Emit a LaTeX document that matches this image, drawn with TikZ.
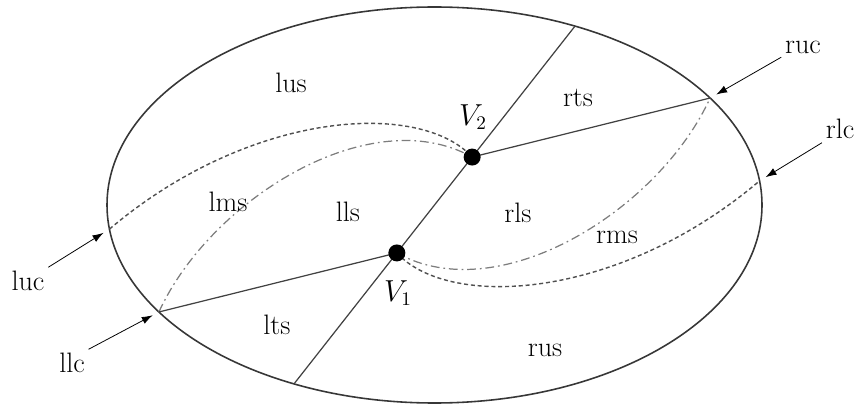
\documentclass[tikz,border=0pt]{standalone}
\usepackage{amsmath}
\usetikzlibrary{arrows.meta,positioning,calc}
\definecolor{rimgray}{RGB}{55,55,55}
\definecolor{cutgray}{RGB}{65,65,65}
\definecolor{dashgray}{RGB}{80,80,80}
\definecolor{dotgray}{RGB}{125,125,125}

\begin{document}
\begin{tikzpicture}[
  >={Latex[length=2.2mm,width=1.5mm]},
  font=\fontsize{16}{19}\selectfont,
  rim/.style={draw=rimgray, line width=0.9pt},
  cut/.style={draw=cutgray, line width=0.7pt},
  upper/.style={draw=dashgray, line width=0.8pt, dash pattern=on 2.3pt off 1.6pt},
  middle/.style={draw=dotgray, line width=0.7pt, dash pattern=on 5pt off 2.2pt on 1pt off 2.2pt},
  vertex/.style={circle, fill=black, inner sep=0pt, minimum size=3.4mm},
  region/.style={inner sep=1pt},
  tag/.style={inner sep=2pt},
  point/.style={->, line width=0.45pt, draw=black, shorten >=1.4mm}
]
\useasboundingbox (0,0) rectangle (17.18,-8.12);

% outer boundary and points on it
\coordinate (O) at (8.69,-4.10);
\draw[rim] (O) ellipse [x radius=6.55cm, y radius=3.96cm];
\coordinate (top) at ($(O)+(64.6:6.55cm and 3.96cm)$);
\coordinate (bot) at ($(O)+(244.6:6.55cm and 3.96cm)$);
\coordinate (ruc) at ($(O)+(32.7:6.55cm and 3.96cm)$);
\coordinate (rlc) at ($(O)+(7:6.55cm and 3.96cm)$);
\coordinate (luc) at ($(O)+(187:6.55cm and 3.96cm)$);
\coordinate (llc) at ($(O)+(212.7:6.55cm and 3.96cm)$);
\coordinate (V2) at ($(top)!0.366!(bot)$);
\coordinate (V1) at ($(top)!0.634!(bot)$);

% curves
\draw[upper] (luc) .. controls (5.00,-2.20) and (8.40,-2.00) .. (V2);
\draw[middle] (llc) .. controls (4.20,-4.00) and (7.40,-2.00) .. (V2);
\draw[middle] (V1) .. controls (9.98,-6.20) and (13.18,-4.20) .. (ruc);
\draw[upper] (V1) .. controls (8.98,-6.20) and (12.38,-6.00) .. (rlc);

% straight cuts
\draw[cut] (bot) -- (top);
\draw[cut] (V1) -- (llc);
\draw[cut] (V2) -- (ruc);

\node[vertex] (v1) at (V1) {};
\node[vertex] (v2) at (V2) {};
\node (v1lab) at (7.96,-5.86) {$V_1$};
\node (v2lab) at (9.46,-2.34) {$V_2$};

% regions
\node[region] (lus) at (5.82,-1.66) {lus};
\node[region] (rts) at (11.56,-1.96) {rts};
\node[region] (lms) at (4.56,-4.04) {lms};
\node[region] (lls) at (6.96,-4.24) {lls};
\node[region] (rls) at (10.36,-4.26) {rls};
\node[region] (rms) at (12.34,-4.74) {rms};
\node[region] (lts) at (5.54,-6.50) {lts};
\node[region] (rus) at (10.90,-7.00) {rus};

% corner labels
\node[tag] (lucL) at (0.56,-5.62) {luc};
\node[tag] (llcL) at (1.44,-7.26) {llc};
\node[tag] (rucL) at (16.06,-0.94) {ruc};
\node[tag] (rlcL) at (16.80,-2.58) {rlc};
\draw[point] (lucL.north east) -- (luc);
\draw[point] (llcL.north east) -- (llc);
\draw[point] (rucL.south west) -- (ruc);
\draw[point] (rlcL.south west) -- (rlc);
\end{tikzpicture}
\end{document}
